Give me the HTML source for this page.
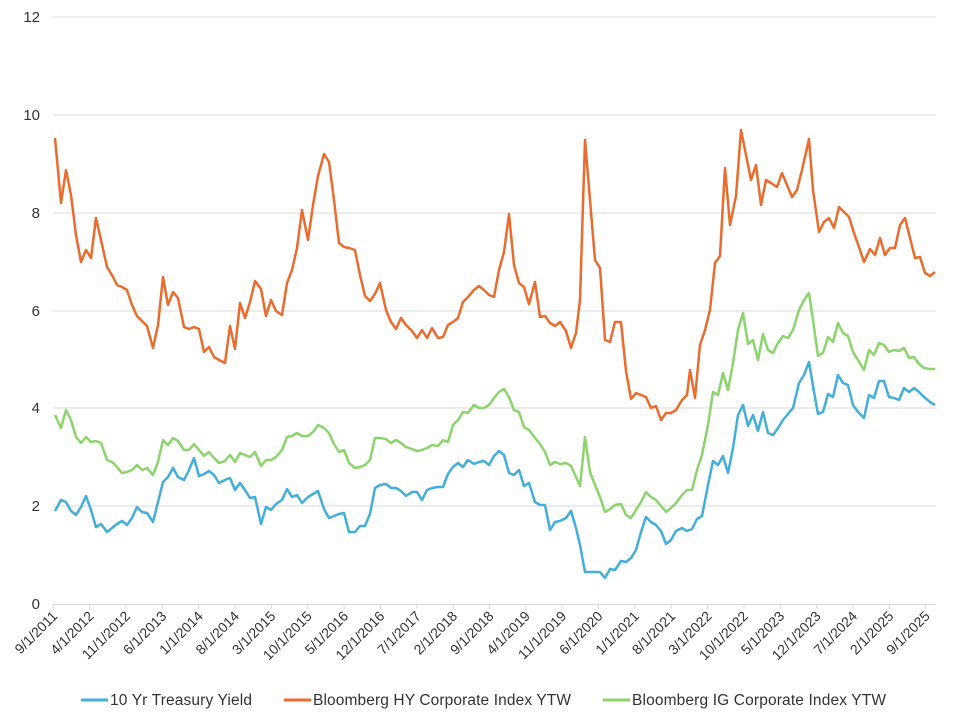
<!DOCTYPE html>
<html><head><meta charset="utf-8"><style>body{margin:0;background:#fff}</style></head><body>
<svg width="960" height="720" viewBox="0 0 960 720" xmlns="http://www.w3.org/2000/svg" font-family="Liberation Sans, sans-serif">
<g stroke="#d9d9d9" stroke-width="1">
<line x1="53" x2="936" y1="17" y2="17"/><line x1="53" x2="936" y1="115" y2="115"/><line x1="53" x2="936" y1="213" y2="213"/><line x1="53" x2="936" y1="311" y2="311"/><line x1="53" x2="936" y1="408" y2="408"/><line x1="53" x2="936" y1="506" y2="506"/><line x1="53" x2="936" y1="604.5" y2="604.5"/>
</g>
<g font-size="15" fill="#333" text-anchor="end">
<text x="40" y="22">12</text><text x="40" y="120">10</text><text x="40" y="218">8</text><text x="40" y="316">6</text><text x="40" y="413">4</text><text x="40" y="511">2</text><text x="40" y="609">0</text>
</g>
<g id="ticks" stroke="#d9d9d9"></g>
<g id="xl" font-size="14" fill="#333" text-anchor="end"></g>
<polyline fill="none" stroke="#ea6b2c" stroke-width="2.5" stroke-linejoin="round" points="55,138 61,203 66,170 71,195 76,235 81,262 86,250 91,258 96,218 101,240 107,267 112,275 117,285 122,287 127,290 132,305 137,316 142,321 147,326 153,348 158,325 163,277 168,305 173,292 178,298 184,327 189,329 194,327 199,329 204,352 209,347 214,357 219,360 225,363 230,326 235,349 240,303 245,318 250,302 255,281 261,289 266,316 271,300 276,311 282,315 287,283 292,270 297,248 302,210 308,240 313,205 318,176 324,154 329,162 334,200 339,243 344,247 349,248 355,250 360,275 365,296 370,301 375,294 380,283 386,310 391,322 396,329 401,318 406,325 412,331 417,338 422,330 427,338 432,328 438,338 443,337 448,325 453,322 458,318 463,302 468,297 474,290 479,286 484,290 489,295 494,297 499,270 504,252 509,214 514,265 519,283 524,287 529,304 535,282 540,317 545,316 550,323 555,326 560,322 566,331 571,348 576,333 580,300 585,140 590,200 595,260 600,268 605,340 610,342 615,322 621,322 626,371 631,399 636,393 641,395 646,397 651,408 656,406 661,420 666,413 671,413 676,410 682,400 687,395 690,370 695,398 700,345 705,330 710,310 715,263 720,256 725,168 730,225 736,196 741,130 746,155 751,180 756,165 761,205 766,180 771,183 777,187 782,173 787,185 792,197 797,190 802,170 809,139 813,190 819,232 824,222 829,218 834,228 839,207 844,212 849,217 854,233 859,247 864,262 870,249 875,255 880,238 885,255 890,248 895,248 900,225 905,218 910,238 915,258 920,257 925,273 930,276 935,272"/>
<polyline fill="none" stroke="#8bd46b" stroke-width="2.5" stroke-linejoin="round" points="55,415 61,428 66,410 71,420 76,437 81,443 86,437 91,442 96,441 101,443 107,460 112,462 117,467 122,473 127,472 132,470 137,465 142,470 147,468 153,475 158,462 163,440 168,445 173,438 178,441 184,450 189,450 194,444 199,450 204,456 209,452 214,458 219,463 225,461 230,455 235,462 240,453 245,455 250,457 255,452 261,466 266,460 271,460 276,457 282,450 287,437 292,436 297,433 302,436 308,436 313,432 318,425 324,428 329,433 334,444 339,452 344,450 349,463 355,468 360,467 365,465 370,460 375,438 380,438 386,439 391,443 396,440 401,443 406,447 412,449 417,451 422,450 427,448 432,445 438,446 443,440 448,442 453,425 458,420 463,412 468,413 474,405 479,408 484,408 489,405 494,398 499,392 504,389 509,397 514,410 519,412 524,427 529,430 535,438 540,444 545,452 550,465 555,462 560,464 566,463 571,466 576,477 580,486 585,437 590,472 595,485 600,497 605,512 610,509 615,505 621,504 626,515 631,518 636,510 641,502 646,492 651,497 656,500 661,506 666,512 671,508 676,503 682,495 687,490 692,490 697,470 702,455 708,425 713,392 718,395 723,373 728,390 733,363 738,330 743,313 748,344 753,340 758,360 763,334 768,350 773,353 778,343 783,336 788,338 793,330 799,310 804,300 809,293 813,320 818,356 823,353 828,337 833,342 838,323 843,333 848,336 853,352 858,360 864,370 869,350 874,355 879,343 884,345 889,352 894,350 899,351 904,348 909,358 914,357 919,364 924,368 930,369 935,369"/>
<polyline fill="none" stroke="#41aedc" stroke-width="2.5" stroke-linejoin="round" points="55,511 61,500 66,502 71,511 76,515 81,507 86,496 91,510 96,527 101,524 107,532 112,528 117,524 122,521 127,525 132,518 137,507 142,512 147,513 153,522 158,502 163,482 168,477 173,468 178,477 184,480 189,470 194,458 199,476 204,474 209,471 214,475 219,483 225,480 230,478 235,490 240,483 245,490 250,498 255,497 261,524 266,507 271,510 276,504 282,500 287,489 292,497 297,495 302,503 308,497 313,494 318,491 324,509 329,518 334,516 339,514 344,513 349,532 355,532 360,526 365,526 370,514 375,488 380,485 386,484 391,488 396,488 401,491 406,496 412,492 417,492 422,500 427,490 432,488 438,487 443,487 448,474 453,467 458,463 463,467 468,460 474,464 479,462 484,461 489,465 494,456 499,451 504,455 509,473 514,475 519,470 524,486 529,483 535,502 540,505 545,505 550,530 555,522 560,521 566,518 571,511 576,528 580,545 585,572 590,572 595,572 600,572 605,578 610,569 615,570 621,561 626,562 631,558 636,550 641,532 646,517 651,522 656,525 661,531 666,544 671,540 676,531 682,528 687,531 692,529 697,519 702,516 708,485 713,461 718,465 723,456 728,473 733,448 738,415 743,405 748,426 753,415 758,431 763,412 768,433 773,435 778,428 783,420 788,414 793,408 799,383 804,375 809,362 813,386 818,414 823,412 828,394 833,397 838,375 843,383 848,385 853,405 858,412 864,418 869,395 874,398 879,381 884,381 889,397 894,398 899,400 904,388 909,392 914,388 919,392 924,397 930,402 935,405"/>
<g font-size="15.5" fill="#333">
<line x1="81" x2="108" y1="700" y2="700" stroke="#41aedc" stroke-width="3"/><text x="110" y="705" textLength="142">10 Yr Treasury Yield</text>
<line x1="284" x2="311" y1="700" y2="700" stroke="#ea6b2c" stroke-width="3"/><text x="313" y="705" textLength="258">Bloomberg HY Corporate Index YTW</text>
<line x1="603" x2="630" y1="700" y2="700" stroke="#8bd46b" stroke-width="3"/><text x="632" y="705" textLength="254">Bloomberg IG Corporate Index YTW</text>
</g>
</svg>
<script>
var labels=["9/1/2011","4/1/2012","11/1/2012","6/1/2013","1/1/2014","8/1/2014","3/1/2015","10/1/2015","5/1/2016","12/1/2016","7/1/2017","2/1/2018","9/1/2018","4/1/2019","11/1/2019","6/1/2020","1/1/2021","8/1/2021","3/1/2022","10/1/2022","5/1/2023","12/1/2023","7/1/2024","2/1/2025","9/1/2025"];
var t=document.getElementById('ticks'),x=document.getElementById('xl'),ns="http://www.w3.org/2000/svg";
labels.forEach(function(l,i){var px=53.3+i*36.35;
var ln=document.createElementNS(ns,'line');ln.setAttribute('x1',px);ln.setAttribute('x2',px);ln.setAttribute('y1',604.5);ln.setAttribute('y2',609);t.appendChild(ln);
var tx=document.createElementNS(ns,'text');tx.setAttribute('transform','translate('+(px+5)+',617) rotate(-45)');tx.textContent=l;x.appendChild(tx);});
</script>
</body></html>
